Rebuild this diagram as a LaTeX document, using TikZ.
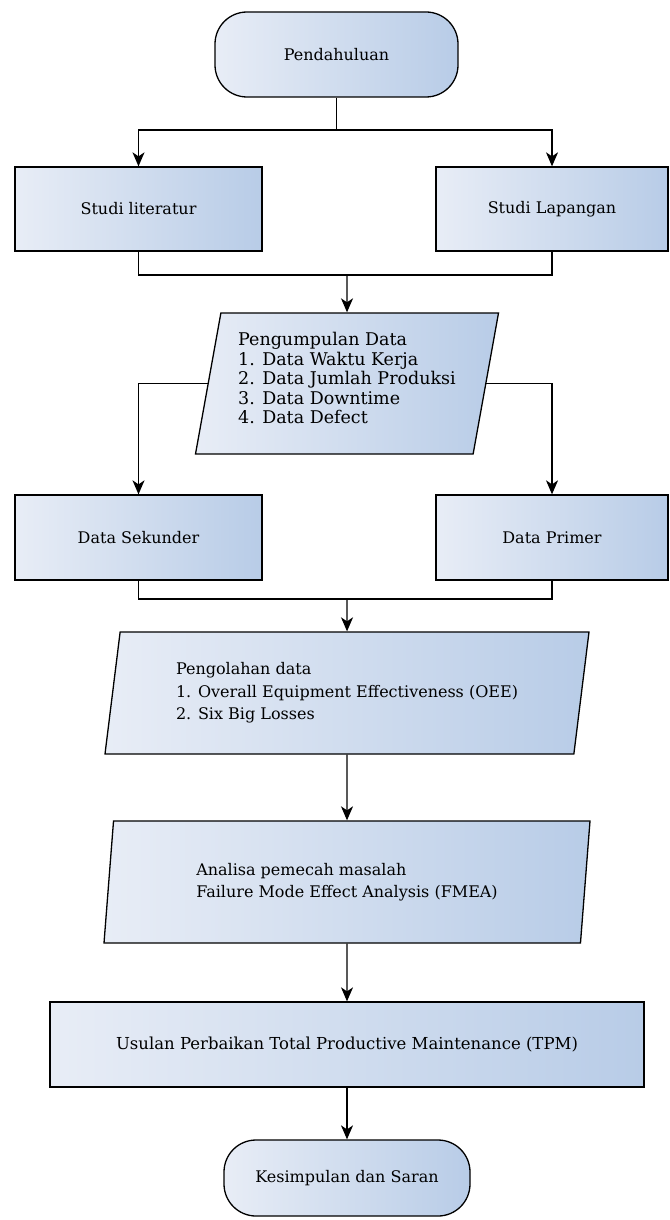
\documentclass[tikz,border=0pt]{standalone}
\usepackage{fontspec}
\setmainfont{DejaVu Serif}
\usetikzlibrary{arrows.meta,shapes.geometric}
\definecolor{boxleft}{RGB}{232,237,246}
\definecolor{boxright}{RGB}{184,204,231}
\begin{document}
\begin{tikzpicture}[x=1pt,y=-1pt,line width=1.3pt,
    font=\fontsize{16}{22.5}\selectfont,
    flowbox/.style={draw=black,left color=boxleft,right color=boxright,inner sep=0pt},
    term/.style={flowbox,rectangle,rounded corners=32pt},
    proc/.style={flowbox,rectangle},
    io/.style={flowbox,trapezium,trapezium left angle=76,trapezium right angle=104,
      trapezium stretches body,align=left}]
  \useasboundingbox (0,0) rectangle (669,1220);
  \draw
    (336.5,54.5) node[term,minimum width=243pt,minimum height=85pt] (pend){Pendahuluan}
    (138.5,209) node[proc,minimum width=247pt,minimum height=84pt] (lit){Studi literatur}
    (552,209) node[proc,minimum width=232pt,minimum height=84pt] (lap){Studi Lapangan}
    (347,383.5) node[io,minimum width=303pt,minimum height=141pt,
      font=\fontsize{17.5}{19.5}\selectfont] (kumpul){Pengumpulan Data\\1. Data Waktu Kerja\\2. Data Jumlah Produksi\\3. Data Downtime\\4. Data Defect\\[-9pt]}
    (138.5,537.5) node[proc,minimum width=247pt,minimum height=85pt] (sek){Data Sekunder}
    (552,537.5) node[proc,minimum width=232pt,minimum height=85pt] (prim){Data Primer}
    (347,693) node[io,minimum width=484pt,minimum height=122pt] (olah){Pengolahan data\\1. Overall Equipment Effectiveness (OEE)\\2. Six Big Losses}
    (347,882) node[io,minimum width=486pt,minimum height=122pt] (analisa){Analisa pemecah masalah\\Failure Mode Effect Analysis (FMEA)}
    (347,1044.5) node[proc,minimum width=594pt,minimum height=85pt,
      font=\fontsize{16.5}{20}\selectfont] (usulan){Usulan Perbaikan Total Productive Maintenance (TPM)}
    (347,1178) node[term,minimum width=246pt,minimum height=76pt] (simpul){Kesimpulan dan Saran};
  \coordinate (split) at (336.5,130);
  \coordinate (join1) at (347,275);
  \coordinate (join2) at (347,599);
  \begin{scope}[-{Stealth[length=14pt,width=12pt,inset=4pt]}]
    \draw[-] (pend) -- (split);
    \draw (split) -| (lit.north);
    \draw (split) -| (lap.north);
    \draw[-] (lit.south) |- (join1);
    \draw[-] (lap.south) |- (join1);
    \draw (join1) -- (kumpul.north);
    \draw (kumpul.west) -| (sek.north);
    \draw (kumpul.east) -| (prim.north);
    \draw[-] (sek.south) |- (join2);
    \draw[-] (prim.south) |- (join2);
    \draw (join2) -- (olah.north);
    \draw (olah) -- (analisa);
    \draw (analisa) -- (usulan);
    \draw (usulan) -- (simpul);
  \end{scope}
\end{tikzpicture}
\end{document}
